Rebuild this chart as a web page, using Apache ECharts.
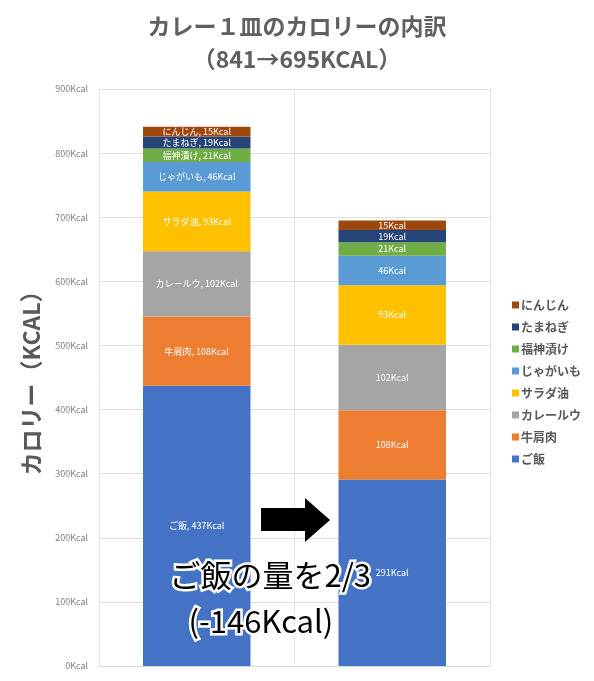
<!DOCTYPE html>
<html>
<head>
<meta charset="utf-8">
<script src="https://cdn.jsdelivr.net/npm/echarts@6/dist/echarts.min.js"></script>
<style>
html,body{margin:0;padding:0;background:#fff;}
#chart{width:594px;height:681px;}
</style>
</head>
<body>
<div id="chart"></div>
<script>
// ---- data ----
const categories = ['変更前', '変更後'];
const seriesNames = ['ご飯', '牛肩肉', 'カレールウ', 'サラダ油', 'じゃがいも', '福神漬け', 'たまねぎ', 'にんじん'];
const gohan = [437, 291];
const gyukata = [108, 108];
const curryRoux = [102, 102];
const saladOil = [93, 93];
const jagaimo = [46, 46];
const fukujinzuke = [21, 21];
const tamanegi = [19, 19];
const ninjin = [15, 15];
const yTicks = [0, 100, 200, 300, 400, 500, 600, 700, 800, 900];
const titleText = 'カレー１皿のカロリーの内訳\n（841→695KCAL）';
const yAxisName = 'カロリー（KCAL）';
const noteLine1 = 'ご飯の量を2/3';
const noteLine2 = '(-146Kcal)';

const seriesValues = [gohan, gyukata, curryRoux, saladOil, jagaimo, fukujinzuke, tamanegi, ninjin];
const colors = ['#4472C4', '#ED7D31', '#A5A5A5', '#FFC000', '#5B9BD5', '#70AD47', '#264478', '#9E480E'];
const FONT = '"Noto Sans CJK JP", "Noto Sans", sans-serif';

const series = seriesNames.map((name, i) => ({
  name: name,
  type: 'bar',
  stack: 'total',
  barWidth: '55%',
  itemStyle: { color: colors[i] },
  label: {
    show: true,
    position: 'inside',
    color: '#ffffff',
    fontSize: 9,
    fontFamily: FONT,
    formatter: p => p.dataIndex === 0 ? (p.seriesName + ', ' + p.value + 'Kcal') : (p.value + 'Kcal')
  },
  data: seriesValues[i]
}));

const chart = echarts.init(document.getElementById('chart'), null, { renderer: 'canvas' });
chart.setOption({
  animation: false,
  backgroundColor: '#ffffff',
  title: {
    text: titleText,
    left: 'center',
    top: 5,
    textStyle: {
      fontFamily: FONT,
      fontSize: 23,
      fontWeight: 'bold',
      color: '#606060',
      lineHeight: 33
    }
  },
  legend: {
    orient: 'vertical',
    left: 507,
    top: 294,
    itemWidth: 7,
    itemHeight: 7,
    itemGap: 10,
    icon: 'rect',
    data: seriesNames.slice().reverse(),
    textStyle: { fontFamily: FONT, fontSize: 12, fontWeight: 'bold', color: '#595959', padding: [0, 0, 0, -3] }
  },
  grid: { left: 99, right: 104, top: 89, bottom: 15, containLabel: false },
  xAxis: {
    type: 'category',
    data: categories,
    axisLabel: { show: false },
    axisTick: { show: false },
    axisLine: { show: true, lineStyle: { color: '#d9d9d9' } },
    splitLine: { show: true, lineStyle: { color: '#e3e3e3' } }
  },
  yAxis: {
    type: 'value',
    min: yTicks[0],
    max: yTicks[yTicks.length - 1],
    interval: 100,
    name: yAxisName,
    nameLocation: 'middle',
    nameGap: 56,
    nameRotate: 90,
    nameTextStyle: { fontFamily: FONT, fontSize: 23, fontWeight: 'bold', color: '#595959' },
    axisLine: { show: false },
    axisTick: { show: false },
    axisLabel: { formatter: '{value}Kcal', fontSize: 9, color: '#808080', margin: 11, fontFamily: FONT },
    splitLine: { lineStyle: { color: '#dedede' } }
  },
  series: series,
  graphic: [
    {
      type: 'polygon',
      z: 100,
      shape: { points: [[261, 508], [305, 508], [305, 498], [330, 520], [305, 542], [305, 531], [261, 531]] },
      style: { fill: '#000000' }
    },
    {
      type: 'text',
      z: 100,
      left: 167,
      top: 557,
      style: {
        text: noteLine1,
        font: '31px "Noto Sans CJK JP"',
        fill: '#000000',
        stroke: '#ffffff',
        lineWidth: 5
      }
    },
    {
      type: 'text',
      z: 100,
      left: 186,
      top: 603,
      style: {
        text: noteLine2,
        font: '31px "Noto Sans CJK JP"',
        fill: '#000000',
        stroke: '#ffffff',
        lineWidth: 5
      }
    }
  ]
});
</script>
</body>
</html>
